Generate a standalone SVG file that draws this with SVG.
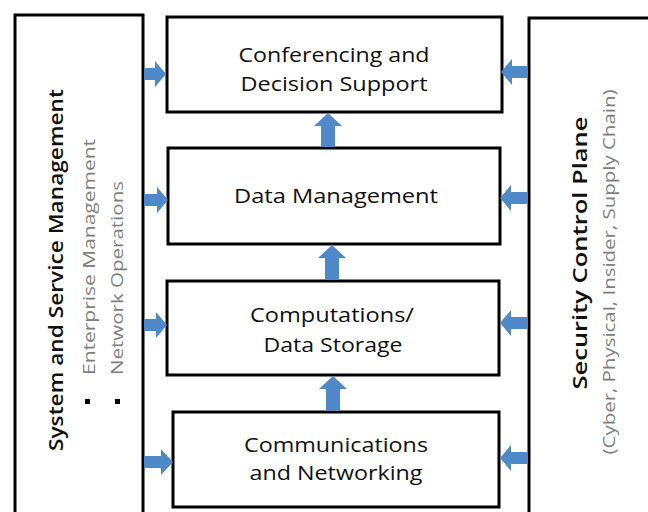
<svg xmlns="http://www.w3.org/2000/svg" width="648" height="512" viewBox="0 0 648 512">
<style>
.box{fill:#fff;stroke:#000;stroke-width:3}
.t{font-family:"Open Sans","Liberation Sans",sans-serif;font-size:20px;fill:#111;text-anchor:middle}
.title{font-family:"Open Sans","Liberation Sans",sans-serif;font-size:19px;fill:#111;font-weight:600}
.sub{font-family:"Open Sans","Liberation Sans",sans-serif;font-size:16px;fill:#808080}
.arr{fill:#4f89c9}
</style>
<rect width="648" height="512" fill="#fff"/>
<g id="left-plane">
<rect class="box" x="15" y="15" width="128" height="510"/>
<text class="title" transform="translate(63,270) rotate(-90)" text-anchor="middle" textLength="362" lengthAdjust="spacingAndGlyphs">System and Service Management</text>
<text class="sub" transform="translate(95,375) rotate(-90)" textLength="236" lengthAdjust="spacingAndGlyphs">Enterprise Management</text>
<text class="sub" transform="translate(123,375) rotate(-90)" textLength="194" lengthAdjust="spacingAndGlyphs">Network Operations</text>
<rect x="85" y="399" width="5" height="5" fill="#000"/>
<rect x="115" y="399" width="5" height="5" fill="#000"/>
</g>
<g id="right-plane">
<rect class="box" x="529" y="18" width="130" height="510"/>
<text class="title" transform="translate(587,253) rotate(-90)" text-anchor="middle" textLength="273" lengthAdjust="spacingAndGlyphs">Security Control Plane</text>
<text class="sub" transform="translate(615,272) rotate(-90)" text-anchor="middle" textLength="365" lengthAdjust="spacingAndGlyphs">(Cyber, Physical, Insider, Supply Chain)</text>
</g>
<g id="conferencing">
<rect class="box" x="167" y="17" width="335" height="95"/>
<text class="t" x="334" y="62" textLength="191" lengthAdjust="spacingAndGlyphs">Conferencing and</text>
<text class="t" x="334" y="91" textLength="187" lengthAdjust="spacingAndGlyphs">Decision Support</text>
</g>
<g id="data-management">
<rect class="box" x="168" y="148" width="332" height="96"/>
<text class="t" x="336" y="203" textLength="204" lengthAdjust="spacingAndGlyphs">Data Management</text>
</g>
<g id="computations">
<rect class="box" x="167" y="281" width="332" height="94"/>
<text class="t" x="332" y="322" textLength="164" lengthAdjust="spacingAndGlyphs">Computations/</text>
<text class="t" x="333" y="352" textLength="139" lengthAdjust="spacingAndGlyphs">Data Storage</text>
</g>
<g id="communications">
<rect class="box" x="173" y="412" width="326" height="95"/>
<text class="t" x="336" y="452" textLength="184" lengthAdjust="spacingAndGlyphs">Communications</text>
<text class="t" x="336" y="480" textLength="173" lengthAdjust="spacingAndGlyphs">and Networking</text>
</g>
<g id="connectors">
<polygon class="arr" points="144,68 155,68 155,61 166,74 155,87 155,80 144,80"/>
<polygon class="arr" points="144,194 157,194 157,187 168,200 157,213 157,206 144,206"/>
<polygon class="arr" points="144,319 156,319 156,312 167,325 156,338 156,331 144,331"/>
<polygon class="arr" points="144,456 161,456 161,449 173,462 161,475 161,468 144,468"/>
<polygon class="arr" points="528,66 512,66 512,59 501,72 512,85 512,78 528,78"/>
<polygon class="arr" points="528,192 511,192 511,185 500,198 511,211 511,204 528,204"/>
<polygon class="arr" points="528,317 511,317 511,310 500,323 511,336 511,329 528,329"/>
<polygon class="arr" points="528,452 511,452 511,445 500,458 511,471 511,464 528,464"/>
<polygon class="arr" points="321,147 321,126 314,126 328,113 342,126 335,126 335,147"/>
<polygon class="arr" points="325,280 325,258 318,258 332,245 346,258 339,258 339,280"/>
<polygon class="arr" points="326,411 326,389 319,389 333,376 347,389 340,389 340,411"/>
</g>
</svg>
